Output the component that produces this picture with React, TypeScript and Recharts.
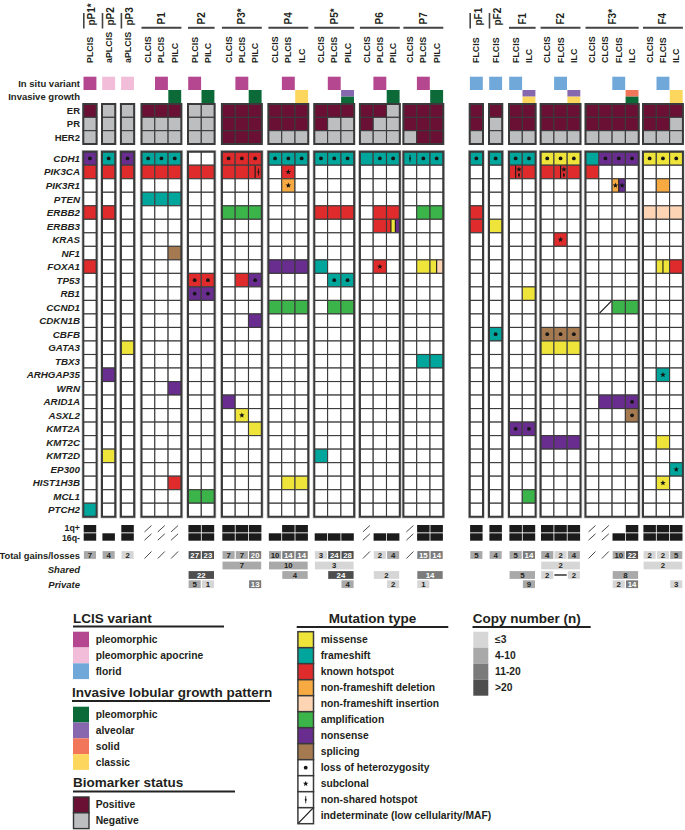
import React from "react";
import { ScatterChart, Scatter, XAxis, YAxis } from "recharts";

const FONT = "'Liberation Sans', Arial, Helvetica, sans-serif";
const INK = "#231f20";
const W = 685;
const H = 830;

// ---- data ----
const groups = ["pP1*", "pP2", "pP3", "P1", "P2", "P3*", "P4", "P5*", "P6", "P7", "pF1", "pF2", "F1", "F2", "F3*", "F4"];

const samples: string[][] = [
  ["PLCIS"], ["aPLCIS"], ["aPLCIS"],
  ["CLCIS", "PLCIS", "PILC"], ["PLCIS", "PILC"], ["CLCIS", "PLCIS", "PILC"], ["CLCIS", "PLCIS", "ILC"],
  ["CLCIS", "PLCIS", "PILC"], ["CLCIS", "PLCIS", "PILC"], ["CLCIS", "PLCIS", "PILC"],
  ["FLCIS"], ["FLCIS"], ["FLCIS", "ILC"], ["CLCIS", "FLCIS", "ILC"], ["CLCIS", "CLCIS", "FLCIS", "ILC"], ["CLCIS", "FLCIS", "ILC"],
];

const inSitu: string[][] = [
  ["pleo"], ["apoc"], ["apoc"],
  ["", "pleo", ""], ["pleo", ""], ["", "pleo", ""], ["", "pleo", ""],
  ["", "pleo", ""], ["", "pleo", ""], ["", "pleo", ""],
  ["florid"], ["florid"], ["florid", ""], ["", "florid", ""], ["", "", "florid", ""], ["", "florid", ""],
];

const invasive: string[][] = [
  [""], [""], [""],
  ["", "", "pleo"], ["", "pleo"], ["", "", "pleo"], ["", "", "classic"],
  ["", "", "alveolar+pleo"], ["", "", "pleo"], ["", "", "pleo"],
  [""], [""], ["", "alveolar+classic"], ["", "", "alveolar+classic"], ["", "", "", "solid+pleo"], ["", "", "classic"],
];

const biomarkers = ["ER", "PR", "HER2"];
const erStatus = ["+", "-", "-", "+++", "--", "+++", "+++", "+++", "++-", "+++", "+", "+", "++", "+++", "++++", "+++"];
const prStatus = ["-", "-", "-", "---", "--", "+++", "+++", "+--", "+--", "+++", "+", "-", "++", "+++", "++++", "++-"];
const her2Status = ["-", "-", "-", "---", "--", "+++", "---", "---", "---", "-++", "-", "-", "--", "---", "----", "---"];

const genes = [
  "CDH1", "PIK3CA", "PIK3R1", "PTEN", "ERBB2", "ERBB3", "KRAS", "NF1", "FOXA1", "TP53", "RB1", "CCND1", "CDKN1B",
  "CBFB", "GATA3", "TBX3", "ARHGAP35", "WRN", "ARID1A", "ASXL2", "KMT2A", "KMT2C", "KMT2D", "EP300", "HIST1H3B",
  "MCL1", "PTCH2",
];

// gene:type[/marker...][|type...]  markers: loh, sub, nsh ; type "ind" = indeterminate
const mutPP1 = [["CDH1:non/loh", "PIK3CA:hot", "ERBB2:hot", "FOXA1:hot", "PTCH2:fs"]];
const mutPP2 = [["CDH1:fs/loh", "PIK3CA:hot", "ERBB2:hot", "ARHGAP35:non", "KMT2D:mis"]];
const mutPP3 = [["CDH1:non/loh", "PIK3CA:hot", "GATA3:mis"]];
const mutP1 = [
  ["CDH1:fs/loh", "PIK3CA:hot", "PTEN:fs"],
  ["CDH1:fs/loh", "PIK3CA:hot", "PTEN:fs"],
  ["CDH1:fs/loh", "PIK3CA:hot", "PTEN:fs", "NF1:spl", "WRN:non", "HIST1H3B:hot"],
];
const mutP2 = [
  ["PIK3CA:hot", "TP53:hot/loh", "RB1:non/loh", "MCL1:amp"],
  ["PIK3CA:hot", "TP53:hot/loh", "RB1:non/loh", "MCL1:amp"],
];
const mutP3 = [
  ["CDH1:hot/loh", "PIK3CA:hot", "ERBB2:amp", "ARID1A:non"],
  ["CDH1:hot/loh", "PIK3CA:hot", "ERBB2:amp", "TP53:hot", "ASXL2:mis/sub"],
  ["CDH1:hot/loh", "PIK3CA:hot|hot/nsh", "ERBB2:amp", "TP53:non/loh", "CDKN1B:non", "KMT2A:mis"],
];
const mutP4 = [
  ["CDH1:fs/loh", "FOXA1:non", "CCND1:amp"],
  ["CDH1:fs/loh", "PIK3CA:hot/sub", "PIK3R1:del/sub", "FOXA1:non", "CCND1:amp", "HIST1H3B:mis"],
  ["CDH1:fs/loh", "FOXA1:non", "CCND1:amp", "HIST1H3B:mis"],
];
const mutP5 = [
  ["CDH1:fs/loh", "ERBB2:hot", "FOXA1:fs", "KMT2D:fs"],
  ["CDH1:fs/loh", "ERBB2:hot", "TP53:fs/loh", "CCND1:amp"],
  ["CDH1:fs/loh", "ERBB2:hot", "TP53:fs/loh", "CCND1:amp"],
];
const mutP6 = [
  ["CDH1:fs"],
  ["CDH1:fs/loh", "ERBB2:hot", "ERBB3:hot", "FOXA1:hot/sub"],
  ["CDH1:fs/loh", "ERBB2:hot", "ERBB3:hot|mis|non"],
];
const mutP7 = [
  ["CDH1:fs/nsh"],
  ["CDH1:fs/loh", "ERBB2:amp", "FOXA1:mis", "TBX3:fs"],
  ["CDH1:fs/loh", "ERBB2:amp", "FOXA1:mis|ins", "TBX3:fs"],
];
const mutPF1 = [["CDH1:fs/loh", "ERBB2:hot", "ERBB3:hot"]];
const mutPF2 = [["CDH1:fs/loh", "ERBB3:mis", "CBFB:fs/loh"]];
const mutF1 = [
  ["CDH1:fs/loh", "PIK3CA:hot|hot/sub/nsh", "KMT2A:non/loh"],
  ["CDH1:fs/loh", "PIK3CA:hot", "RB1:mis", "KMT2A:non/loh", "MCL1:amp"],
];
const mutF2 = [
  ["CDH1:mis/loh", "PIK3CA:hot", "CBFB:spl/loh", "GATA3:mis", "KMT2C:non"],
  ["CDH1:mis/loh", "PIK3CA:hot|hot/sub/nsh", "KRAS:hot/sub", "CBFB:spl/loh", "GATA3:mis", "KMT2C:non"],
  ["CDH1:mis/loh", "PIK3CA:hot", "CBFB:spl/loh", "GATA3:mis", "KMT2C:non"],
];
const mutF3 = [
  ["CDH1:fs", "PIK3CA:hot"],
  ["CDH1:non/loh", "CCND1:ind", "ARID1A:non"],
  ["CDH1:non/loh", "PIK3R1:del/sub|non/sub", "CCND1:amp", "ARID1A:non"],
  ["CDH1:non/loh", "CCND1:amp", "ARID1A:non/loh", "ASXL2:spl/loh"],
];
const mutF4 = [
  ["CDH1:mis/loh", "ERBB2:ins"],
  ["CDH1:mis/loh", "PIK3R1:del", "ERBB2:ins", "FOXA1:mis|mis", "ARHGAP35:fs/sub", "KMT2C:mis", "HIST1H3B:mis/sub"],
  ["CDH1:mis/loh", "ERBB2:ins", "FOXA1:hot", "EP300:fs/sub"],
];
const mutations = [mutPP1, mutPP2, mutPP3, mutP1, mutP2, mutP3, mutP4, mutP5, mutP6, mutP7, mutPF1, mutPF2, mutF1, mutF2, mutF3, mutF4];

// 1 = present, 0 = absent, x = indeterminate
const gain1q = ["1", "0", "1", "xxx", "11", "111", "011", "000", "x00", "x11", "1", "1", "11", "111", "xx01", "111"];
const loss16q = ["1", "1", "1", "xxx", "11", "111", "111", "111", "x11", "x11", "1", "1", "11", "111", "xx11", "111"];

const totalChanges: (number | null)[][] = [
  [7], [4], [2], [null, null, null], [27, 23], [7, 7, 20], [10, 14, 14], [3, 24, 28], [null, 2, 4], [null, 15, 14],
  [5], [4], [5, 14], [4, 2, 4], [null, null, 10, 22], [2, 2, 5],
];

// [group, first column, last column, count]
const sharedUpper = [[5, 0, 2, 7], [6, 0, 2, 10], [7, 0, 2, 3], [13, 0, 2, 2], [15, 0, 2, 2]];
const sharedLower = [[4, 0, 1, 22], [6, 1, 2, 4], [7, 1, 2, 24], [8, 1, 2, 2], [9, 1, 2, 14], [12, 0, 1, 5], [13, 0, 0, 2], [13, 2, 2, 2], [14, 2, 3, 8]];
const sharedLinks = [[13, 0, 2]];
const privateChanges = [[4, 0, 0, 5], [4, 1, 1, 1], [5, 2, 2, 13], [7, 2, 2, 4], [8, 2, 2, 2], [9, 1, 1, 1], [12, 1, 1, 9], [14, 2, 2, 2], [14, 3, 3, 14], [15, 2, 2, 3]];

const lcisLegend = ["pleomorphic", "pleomorphic apocrine", "florid"];
const lcisKeys = ["pleo", "apoc", "florid"];
const growthLegend = ["pleomorphic", "alveolar", "solid", "classic"];
const growthKeys = ["pleo", "alveolar", "solid", "classic"];
const statusLegend = ["Positive", "Negative"];
const mutationLegend = [
  "missense", "frameshift", "known hotspot", "non-frameshift deletion", "non-frameshift insertion", "amplification",
  "nonsense", "splicing", "loss of heterozygosity", "subclonal", "non-shared hotspot", "indeterminate (low cellularity/MAF)",
];
const mutationKeys = ["mis", "fs", "hot", "del", "ins", "amp", "non", "spl", "loh", "sub", "nsh", "ind"];
const copyLegend = ["≤3", "4-10", "11-20", ">20"];

// ---- styles ----
const mutationColors: Record<string, string> = {
  mis: "#efe43a", fs: "#00a59b", hot: "#e02b2c", del: "#f7aa41", ins: "#fdd5b5", amp: "#3bb44a", non: "#692d8f", spl: "#a67a50",
};
const lcisColors: Record<string, string> = { pleo: "#b4478f", apoc: "#f2bdd9", florid: "#70a9d9" };
const growthColors: Record<string, string> = { pleo: "#0c6a39", alveolar: "#8767ae", solid: "#f2765a", classic: "#fdd65d" };
const POS = "#6a1034";
const NEG = "#bdbec0";
const copyShades = ["#d6d6d6", "#a9a9a9", "#7b7b7b", "#4e4e4e"];
const GRID = "#3a3a3a";

// ---- layout ----
const CELL = 13.3;
const GRID_X0 = 83.3;
const GROUP_GAP = [0, 5.4, 5.6, 7.3, 6.6, 7.3, 6.6, 6, 5.7, 3.6, 26.4, 6, 6.7, 5, 5, 4.3];
const LABEL_X = 80;
const INSITU_Y = 76.7;
const BIO_Y = 104;
const BIO_H = 13.33;
const GENE_Y = 151.7;
const GENE_H = 13.52;
const ARM_Y = [525, 533.3];
const ARM_H = 7.4;
const ROW_TOTAL = 555;
const ROW_SHARED = [565.5, 575];
const ROW_PRIVATE = 584.2;

const groupLeft: number[] = [];
{
  let x = GRID_X0;
  groups.forEach((_, g) => {
    x += GROUP_GAP[g];
    groupLeft.push(x);
    x += samples[g].length * CELL;
  });
}
const colLeft = (g: number, i: number) => groupLeft[g] + i * CELL;

const shadeFor = (n: number) => (n <= 3 ? copyShades[0] : n <= 10 ? copyShades[1] : n <= 20 ? copyShades[2] : copyShades[3]);

const parseEntry = (s: string) => {
  const [gene, rest] = s.split(":");
  if (rest === "ind") return { gene, ind: true, stripes: [] as any[] };
  const stripes = rest.split("|").map((p) => {
    const [type, ...marks] = p.split("/");
    return { type, marks };
  });
  return { gene, ind: false, stripes };
};

// ---- layers ----
const rects: any[] = [];
const lines: any[] = [];
const texts: any[] = [];
const cells: any[] = [];

const LBL = 9.5;
const txt = (x: number, y: number, text: string, o: any = {}) => texts.push({ x, y, text, size: LBL, bold: true, ...o });
const line = (x: number, y: number, x2: number, y2: number, stroke = GRID, sw = 1.5) =>
  lines.push({ x, y, dx: x2 - x, dy: y2 - y, stroke, sw });

// headers
groups.forEach((name, g) => {
  const n = samples[g].length;
  const left = groupLeft[g];
  const width = n * CELL;
  if (n === 1) {
    line(left + 0.5, 13, left + 0.5, 28.5, "#444", 1.6);
    txt(left + width / 2 + 1.8, 25.5, name, { size: 10, rot: true });
  } else {
    line(left, 27.8, left + width, 27.8, "#444", 2);
    txt(left + width / 2, 24.5, name, { size: 10, rot: true });
  }
  samples[g].forEach((s, i) => txt(colLeft(g, i) + CELL / 2, 63, s, { size: 8.9, rot: true }));
});

txt(LABEL_X, INSITU_Y + CELL / 2, "In situ variant", { anchor: "end" });
txt(LABEL_X, INSITU_Y + CELL * 1.5, "Invasive growth", { anchor: "end" });

groups.forEach((_, g) => {
  samples[g].forEach((_, i) => {
    const x = colLeft(g, i);
    const v = inSitu[g][i];
    if (v) rects.push({ x: x + 0.2, y: INSITU_Y, w: CELL - 0.4, h: CELL, fill: lcisColors[v] });
    const inv = invasive[g][i];
    if (inv) {
      const parts = inv.split("+");
      const ph = CELL / parts.length;
      parts.forEach((p, k) =>
        rects.push({ x: x + 0.2, y: INSITU_Y + CELL + k * ph, w: CELL - 0.4, h: ph, fill: growthColors[p] })
      );
    }
  });
});

// biomarkers
const statusRows = [erStatus, prStatus, her2Status];
biomarkers.forEach((b, r) => txt(LABEL_X, BIO_Y + (r + 0.5) * BIO_H, b, { anchor: "end" }));
groups.forEach((_, g) => {
  const n = samples[g].length;
  statusRows.forEach((row, r) => {
    row[g].split("").forEach((c, i) => {
      rects.push({ x: colLeft(g, i), y: BIO_Y + r * BIO_H, w: CELL, h: BIO_H, fill: c === "+" ? POS : NEG, stroke: GRID, sw: 1.1 });
    });
  });
  rects.push({ x: groupLeft[g], y: BIO_Y, w: n * CELL, h: 3 * BIO_H, fill: "none", stroke: GRID, sw: 2 });
});

// genes
genes.forEach((gn, r) => txt(LABEL_X, GENE_Y + (r + 0.5) * GENE_H, gn, { anchor: "end", italic: true, size: 9.8 }));
groups.forEach((_, g) => {
  const n = samples[g].length;
  samples[g].forEach((_, i) => {
    const entries = mutations[g][i].map(parseEntry);
    genes.forEach((gn, r) => {
      const e = entries.find((en) => en.gene === gn);
      cells.push({ x: colLeft(g, i), y: GENE_Y + r * GENE_H, w: CELL, h: GENE_H, stripes: e ? e.stripes : [], ind: e ? e.ind : false });
    });
  });
  rects.push({ x: groupLeft[g] - 1.2, y: GENE_Y - 1.2, w: n * CELL + 2.4, h: genes.length * GENE_H + 2.4, fill: "none", stroke: "#c4c4c4", sw: 1 });
  rects.push({ x: groupLeft[g], y: GENE_Y, w: n * CELL, h: genes.length * GENE_H, fill: "none", stroke: GRID, sw: 2 });
});

// chromosome arms
txt(LABEL_X, ARM_Y[0] + ARM_H / 2 - 0.6, "1q+", { anchor: "end", size: 8.8 });
txt(LABEL_X, ARM_Y[1] + ARM_H / 2 + 0.6, "16q-", { anchor: "end", size: 8.8 });
[gain1q, loss16q].forEach((row, r) => {
  groups.forEach((_, g) => {
    row[g].split("").forEach((c, i) => {
      const x = colLeft(g, i);
      const y = ARM_Y[r];
      if (c === "1") rects.push({ x: x + 0.4, y, w: CELL - 0.8, h: ARM_H, fill: "#1b1b1b" });
      if (c === "x") line(x + 3, y + ARM_H - 0.5, x + 10, y + 0.5, "#333", 0.9);
    });
  });
});

// copy number counts
txt(LABEL_X, ROW_TOTAL, "Total gains/losses", { anchor: "end", size: 9.4 });
txt(LABEL_X, (ROW_SHARED[0] + ROW_SHARED[1]) / 2 - 1, "Shared", { anchor: "end", italic: true });
txt(LABEL_X, ROW_PRIVATE, "Private", { anchor: "end", italic: true });

const BOX_H = 7.8;
const countBox = (x1: number, x2: number, yc: number, n: number) => {
  rects.push({ x: x1, y: yc - BOX_H / 2, w: x2 - x1, h: BOX_H, fill: shadeFor(n) });
  txt((x1 + x2) / 2, yc + 0.3, String(n), { anchor: "middle", size: 7.8, fill: n > 10 ? "#ffffff" : INK });
};
groups.forEach((_, g) => {
  totalChanges[g].forEach((v, i) => {
    const x = colLeft(g, i);
    if (v === null) line(x + 3, ROW_TOTAL + 3.5, x + 10, ROW_TOTAL - 3.5, "#333", 0.9);
    else countBox(x + 0.6, x + CELL - 0.6, ROW_TOTAL, v);
  });
});
const segRow = (list: number[][], yc: number) =>
  list.forEach(([g, a, b, v]) => countBox(colLeft(g, a) + 0.6, colLeft(g, b) + CELL - 0.6, yc, v));
segRow(sharedUpper, ROW_SHARED[0]);
segRow(sharedLower, ROW_SHARED[1]);
segRow(privateChanges, ROW_PRIVATE);
sharedLinks.forEach(([g, a, b]) => line(colLeft(g, a) + CELL + 0.5, ROW_SHARED[1], colLeft(g, b) - 0.5, ROW_SHARED[1], "#222", 1.4));

// ---- legends ----
const LEG_FS = 10.3;
const title = (x: number, y: number, t: string, x1: number, x2: number, yl: number, anchor = "start") => {
  txt(x, y, t, { size: 13.5, anchor });
  line(x1, yl, x2, yl, "#222", 2);
};
title(73, 618.5, "LCIS variant", 73, 224, 626.5);
lcisLegend.forEach((t, k) => {
  const y = 631.7 + k * 15.8;
  rects.push({ x: 73, y, w: 16, h: 15.8, fill: lcisColors[lcisKeys[k]] });
  txt(95.7, y + 7.9, t, { size: LEG_FS });
});
title(72, 692.5, "Invasive lobular growth pattern", 72, 270, 701);
growthLegend.forEach((t, k) => {
  const y = 706.7 + k * 15.8;
  rects.push({ x: 73, y, w: 16, h: 15.8, fill: growthColors[growthKeys[k]] });
  txt(95.7, y + 7.9, t, { size: LEG_FS });
});
title(73, 782.5, "Biomarker status", 73, 235, 791.5);
statusLegend.forEach((t, k) => {
  const y = 797 + k * 15.8;
  rects.push({ x: 73.5, y, w: 15.5, h: 15.8, fill: k === 0 ? POS : NEG, stroke: "#333", sw: 1.4 });
  txt(95.7, y + 7.9, t, { size: LEG_FS });
});

title(372.5, 618.5, "Mutation type", 296.7, 448.3, 627, "middle");
mutationLegend.forEach((t, k) => {
  const y = 631.7 + k * 16;
  const key = mutationKeys[k];
  if (mutationColors[key]) {
    cells.push({ x: 297.9, y, w: 15.6, h: 16, stripes: [{ type: key, marks: [] }], ind: false, legend: true });
  } else if (key === "ind") {
    cells.push({ x: 297.9, y, w: 15.6, h: 16, stripes: [], ind: true, legend: true });
  } else {
    cells.push({ x: 297.9, y, w: 15.6, h: 16, stripes: [{ type: "blank", marks: [key] }], ind: false, legend: true });
  }
  txt(320.7, y + 8, t, { size: LEG_FS });
});

title(472.7, 618.5, "Copy number (n)", 472.5, 590.7, 627);
copyLegend.forEach((t, k) => {
  const y = 631.7 + k * 16;
  rects.push({ x: 473.3, y, w: 15, h: 16, fill: copyShades[k] });
  txt(495, y + 8, t, { size: LEG_FS });
});

// ---- shapes ----
const starPath = (x: number, y: number, r: number) => {
  let d = "";
  for (let i = 0; i < 10; i++) {
    const rr = i % 2 === 0 ? r : r * 0.42;
    const a = -Math.PI / 2 + (i * Math.PI) / 5;
    d += (i ? "L" : "M") + (x + rr * Math.cos(a)).toFixed(2) + " " + (y + rr * Math.sin(a)).toFixed(2);
  }
  return d + "Z";
};

const Marks = ({ x, y, marks, k }: any) => {
  const out: any[] = [];
  const sub = marks.includes("sub");
  const nsh = marks.includes("nsh");
  if (marks.includes("loh")) out.push(<circle key={`l${k}`} cx={x} cy={y} r={1.9} fill="#151515" />);
  if (sub) out.push(<path key={`s${k}`} d={starPath(x, nsh ? y - 2.6 : y, 2.9)} fill="#151515" />);
  if (nsh) {
    const yc = sub ? y + 3 : y;
    const hh = sub ? 2.3 : 3.6;
    out.push(<line key={`n${k}`} x1={x} y1={yc - hh} x2={x} y2={yc + hh} stroke="#151515" strokeWidth={0.8} />);
    out.push(<ellipse key={`e${k}`} cx={x} cy={yc} rx={0.9} ry={1.3} fill="#151515" />);
  }
  return <>{out}</>;
};

const CellShape = (p: any) => {
  const { cx, cy, payload: d } = p;
  if (cx == null || cy == null) return <g />;
  const n = d.stripes.length;
  const sw = n ? d.w / n : d.w;
  return (
    <g>
      <rect x={cx} y={cy} width={d.w} height={d.h} fill="#ffffff" />
      {d.stripes.map((s: any, k: number) => (
        <rect key={`f${k}`} x={cx + k * sw} y={cy} width={sw} height={d.h} fill={mutationColors[s.type] || "#ffffff"} />
      ))}
      {d.stripes.slice(1).map((_: any, k: number) => (
        <line key={`d${k}`} x1={cx + (k + 1) * sw} y1={cy} x2={cx + (k + 1) * sw} y2={cy + d.h} stroke="#151515" strokeWidth={1.1} />
      ))}
      {d.stripes.map((s: any, k: number) => (
        <Marks key={`m${k}`} k={k} x={cx + (k + 0.5) * sw} y={cy + d.h / 2} marks={s.marks} />
      ))}
      {d.ind ? <line x1={cx + 0.5} y1={cy + d.h - 0.5} x2={cx + d.w - 0.5} y2={cy + 0.5} stroke="#151515" strokeWidth={1.2} /> : null}
      <rect x={cx} y={cy} width={d.w} height={d.h} fill="none" stroke={GRID} strokeWidth={d.legend ? 1.5 : 1.1} />
    </g>
  );
};

const RectShape = (p: any) => {
  const { cx, cy, payload: d } = p;
  if (cx == null || cy == null) return <g />;
  return <rect x={cx} y={cy} width={d.w} height={d.h} fill={d.fill} stroke={d.stroke || "none"} strokeWidth={d.sw || 0} />;
};

const LineShape = (p: any) => {
  const { cx, cy, payload: d } = p;
  if (cx == null || cy == null) return <g />;
  return <line x1={cx} y1={cy} x2={cx + d.dx} y2={cy + d.dy} stroke={d.stroke} strokeWidth={d.sw} />;
};

const TextShape = (p: any) => {
  const { cx, cy, payload: d } = p;
  if (cx == null || cy == null) return <g />;
  return (
    <text
      x={cx}
      y={cy}
      fontFamily={FONT}
      fontSize={d.size}
      fontWeight={d.bold ? 700 : 400}
      fontStyle={d.italic ? "italic" : "normal"}
      fill={d.fill || INK}
      textAnchor={d.anchor || "start"}
      dominantBaseline="central"
      transform={d.rot ? `rotate(-90 ${cx} ${cy})` : undefined}
    >
      {d.text}
    </text>
  );
};

const bottomRects = rects.filter((r) => r.fill !== "none");
const outlineRects = rects.filter((r) => r.fill === "none");

export default function App() {
  return (
    <div style={{ position: "absolute", left: 0, top: 0, width: W, height: H, background: "#ffffff" }}>
      <ScatterChart width={W} height={H} margin={{ top: 0, right: 0, bottom: 0, left: 0 }}>
        <XAxis type="number" dataKey="x" domain={[0, W]} hide allowDataOverflow />
        <YAxis type="number" dataKey="y" domain={[0, H]} reversed hide allowDataOverflow />
        <Scatter data={bottomRects} shape={RectShape} isAnimationActive={false} />
        <Scatter data={cells} shape={CellShape} isAnimationActive={false} />
        <Scatter data={outlineRects} shape={RectShape} isAnimationActive={false} />
        <Scatter data={lines} shape={LineShape} isAnimationActive={false} />
        <Scatter data={texts} shape={TextShape} isAnimationActive={false} />
      </ScatterChart>
    </div>
  );
}
